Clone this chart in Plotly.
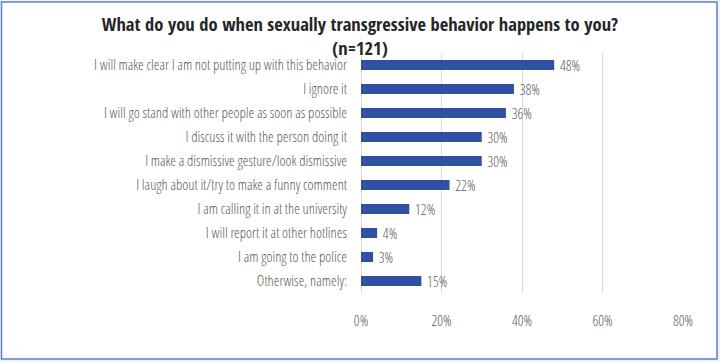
import plotly.graph_objects as go

categories = [
    "I will make clear I am not putting up with this behavior",
    "I ignore it",
    "I will go stand with other people as soon as possible",
    "I discuss it with the person doing it",
    "I make a dismissive gesture/look dismissive",
    "I laugh about it/try to make a funny comment",
    "I am calling it in at the university",
    "I will report it at other hotlines",
    "I am going to the police",
    "Otherwise, namely:",
]
values = [48, 38, 36, 30, 30, 22, 12, 4, 3, 15]
tick_vals = [0, 20, 40, 60, 80]
tick_text = ["0%", "20%", "40%", "60%", "80%"]

W, H = 720, 362
ML, MR, MT, MB = 361, 37, 53, 69
pw = W - ML - MR
ph = H - MT - MB

font_fam = "Open Sans Condensed Light, Open Sans Condensed, Roboto Condensed, sans-serif"
title_fam = "Open Sans Condensed, Roboto Condensed, sans-serif"
FS = 14.5

fig = go.Figure(go.Bar(
    y=categories,
    x=values,
    orientation="h",
    marker=dict(color="#2E51A2", line=dict(width=0)),
    text=[f" {v}%" for v in values],
    textposition="outside",
    textfont=dict(family=font_fam, size=FS, color="#595959", weight=300),
    constraintext="none",
    cliponaxis=False,
    width=0.42,
))

def px_x(p):
    return (p - ML) / pw

def px_y(p):
    return (H - MB - p) / ph

fig.add_shape(type="rect", xref="paper", yref="paper",
              x0=px_x(1.5), x1=px_x(717), y0=px_y(359), y1=px_y(2),
              line=dict(color="#5B7FCF", width=1.5), fillcolor="white",
              layer="below")

fig.update_layout(
    width=W, height=H,
    margin=dict(l=ML, r=MR, t=MT, b=MB),
    paper_bgcolor="#F2F2F2",
    plot_bgcolor="white",
    showlegend=False,
    title=dict(
        text="What do you do when sexually transgressive behavior happens to you?<br>(n=121)",
        x=0.5, xanchor="center", xref="container",
        y=1 - 31 / H, yanchor="top", yref="container",
        font=dict(family=title_fam, size=18.5, color="#262626", weight="bold"),
    ),
    xaxis=dict(
        range=[0, 80], tickvals=tick_vals, ticktext=tick_text,
        showgrid=True, gridcolor="#D9D9D9", gridwidth=1,
        zeroline=True, zerolinecolor="#D9D9D9", zerolinewidth=1,
        showline=False,
        tickfont=dict(family=font_fam, size=FS, color="#595959", weight=300),
        ticklabelstandoff=17,
        fixedrange=True,
    ),
    yaxis=dict(
        autorange="reversed",
        showgrid=False, zeroline=False, showline=False,
        tickfont=dict(family=font_fam, size=FS, color="#595959", weight=300),
        ticklabelstandoff=13,
        fixedrange=True,
    ),
)

fig.write_html("out.html", config={"displayModeBar": False},
               post_script="document.body.style.margin='0';")
